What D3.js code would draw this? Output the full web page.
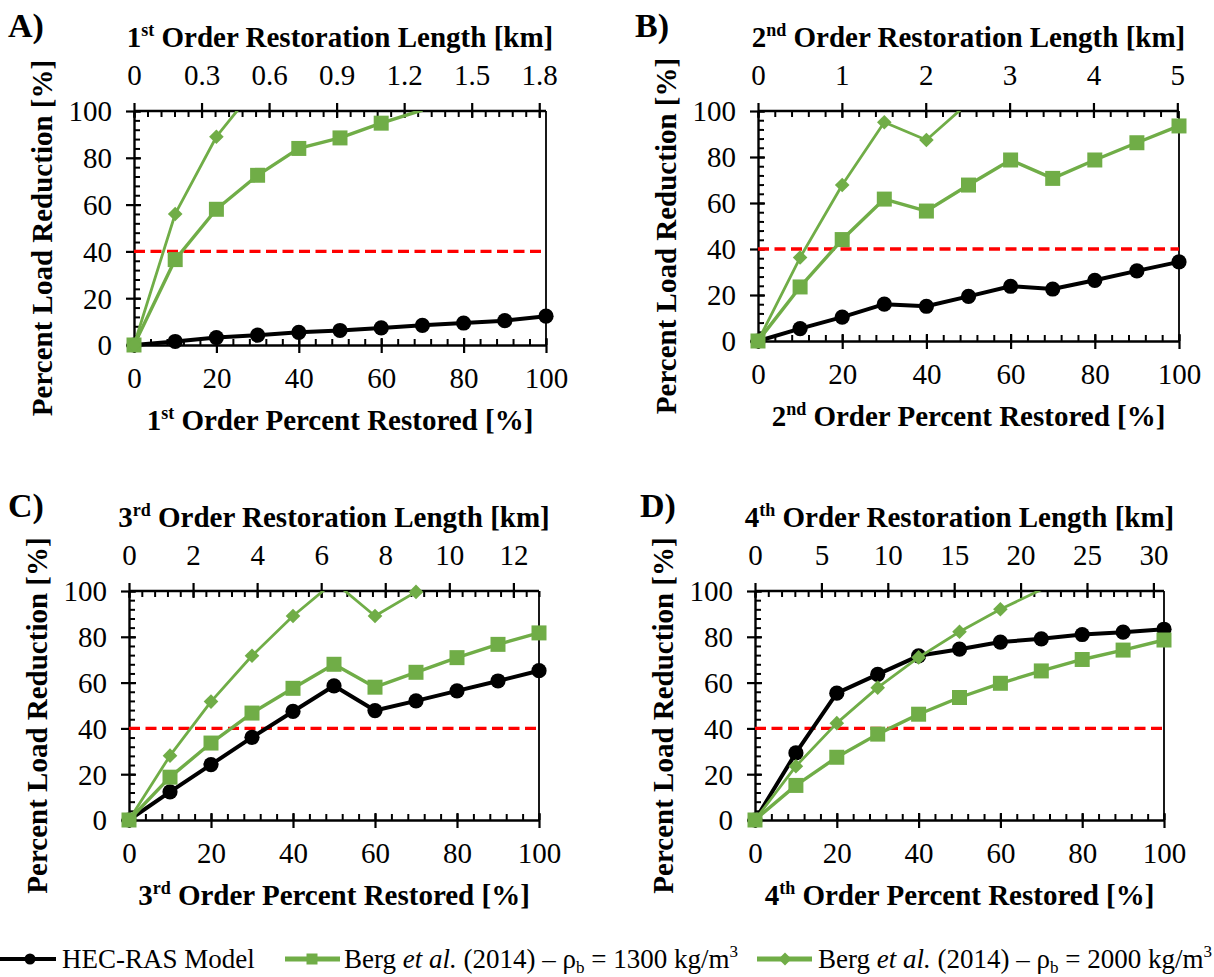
<!DOCTYPE html>
<html>
<head>
<meta charset="utf-8">
<script src="https://cdn.jsdelivr.net/npm/d3@7"></script>
<style>
  body { margin: 0; background: #fff; }
  svg { display: block; }
  text { font-family: "Liberation Serif", "Times New Roman", serif; fill: #000; }
</style>
</head>
<body>
<svg id="fig" width="1214" height="977"></svg>
<script>
// ---- data ---------------------------------------------------------------
const pctRestored = [0, 10, 20, 30, 40, 50, 60, 70, 80, 90, 100];
const pctTicks = [0, 20, 40, 60, 80, 100];
const loadTicks = [0, 20, 40, 60, 80, 100];
const targetReduction = 40;

// 1st order streams
const hecRas1st = [0, 1.5, 3.2, 4.2, 5.4, 6.2, 7.3, 8.4, 9.4, 10.4, 12.3];
const berg1300_1st = [0, 36.5, 58, 72.5, 84, 88.5, 94.8, 100.4];
const berg2000_1st = [0, 56, 89, 111];
const kmTicks1st = [0, 0.3, 0.6, 0.9, 1.2, 1.5, 1.8];
const kmTotal1st = 1.83;

// 2nd order streams
const hecRas2nd = [0, 5.4, 10.4, 16.0, 15.1, 19.4, 23.8, 22.6, 26.4, 30.5, 34.4];
const berg1300_2nd = [0, 23.5, 44.1, 61.7, 56.5, 67.8, 78.7, 70.7, 78.7, 86.2, 93.5];
const berg2000_2nd = [0, 36.3, 67.8, 95.1, 87.4, 103.6];
const kmTicks2nd = [0, 1, 2, 3, 4, 5];
const kmTotal2nd = 5.02;

// 3rd order streams
const hecRas3rd = [0, 12.3, 24.2, 36.1, 47.4, 58.6, 47.8, 52.0, 56.4, 60.7, 65.2];
const berg1300_3rd = [0, 18.7, 33.6, 46.7, 57.5, 68.0, 58.0, 64.5, 70.9, 76.7, 81.7];
const berg2000_3rd = [0, 28.1, 51.7, 71.7, 89.1, 104, 89.1, 99.6];
const kmTicks3rd = [0, 2, 4, 6, 8, 10, 12];
const kmTotal3rd = 12.8;

// 4th order streams
const hecRas4th = [0, 29.3, 55.4, 63.6, 71.7, 74.6, 77.7, 79.1, 81.0, 82.0, 83.3];
const berg1300_4th = [0, 15.1, 27.4, 37.5, 46.2, 53.5, 59.7, 65.1, 70.1, 74.2, 78.6];
const berg2000_4th = [0, 23.5, 42.3, 57.8, 71.0, 82.2, 92.0, 100.6];
const kmTicks4th = [0, 5, 10, 15, 20, 25, 30];
const kmTotal4th = 30.8;

const ordinals = [["1", "st"], ["2", "nd"], ["3", "rd"], ["4", "th"]];
const panelLetters = ["A)", "B)", "C)", "D)"];
const seriesNames = ["HEC-RAS Model", "Berg et al. (2014) – ρb = 1300 kg/m3", "Berg et al. (2014) – ρb = 2000 kg/m3"];

// ---- styling --------------------------------------------------------------
const GREEN = "#70AD47";
const FONT = '"Liberation Serif", "Times New Roman", serif';

const svg = d3.select("#fig");

const panels = [
  { letter: panelLetters[0], ord: ordinals[0], hec: hecRas1st, b13: berg1300_1st, b20: berg2000_1st,
    kmTicks: kmTicks1st, kmTotal: kmTotal1st, minorKm: 0.06,
    left: 134, right: 546, top: 111, bottom: 345, lx: 8, ly: 37 },
  { letter: panelLetters[1], ord: ordinals[1], hec: hecRas2nd, b13: berg1300_2nd, b20: berg2000_2nd,
    kmTicks: kmTicks2nd, kmTotal: kmTotal2nd, minorKm: 0.2,
    left: 758, right: 1179, top: 111, bottom: 341, lx: 635, ly: 37 },
  { letter: panelLetters[2], ord: ordinals[2], hec: hecRas3rd, b13: berg1300_3rd, b20: berg2000_3rd,
    kmTicks: kmTicks3rd, kmTotal: kmTotal3rd, minorKm: 0.4,
    left: 129, right: 539, top: 591, bottom: 820, lx: 8, ly: 517 },
  { letter: panelLetters[3], ord: ordinals[3], hec: hecRas4th, b13: berg1300_4th, b20: berg2000_4th,
    kmTicks: kmTicks4th, kmTotal: kmTotal4th, minorKm: 1,
    left: 755, right: 1164, top: 591, bottom: 820, lx: 640, ly: 517 }
];

// text with a superscripted ordinal suffix, e.g. 1st Order ...
function ordinalText(sel, ord, rest, size) {
  const sup = Math.round(size * 0.62);
  const shift = Math.round(size * 0.38);
  sel.append("tspan").text(ord[0]);
  sel.append("tspan").attr("font-size", sup).attr("dy", -shift).text(ord[1]);
  sel.append("tspan").attr("dy", shift).text(" " + rest);
}

function styleAxisText(g, size) {
  g.attr("font-family", null).attr("font-size", size);
  g.selectAll("text").style("font-family", FONT).style("font-size", size + "px");
  g.select(".domain").attr("stroke-width", 2.4);
  g.selectAll(".tick line").attr("stroke-width", 2.2);
}

function squarePath(cx, cy, s) {
  return `M${cx - s / 2},${cy - s / 2}h${s}v${s}h${-s}Z`;
}
function diamondPath(cx, cy, r) {
  return `M${cx},${cy - r}L${cx + r},${cy}L${cx},${cy + r}L${cx - r},${cy}Z`;
}

function drawPanel(p, idx) {
  const w = p.right - p.left, h = p.bottom - p.top;
  const g = svg.append("g").attr("transform", `translate(${p.left},${p.top})`);
  const x = d3.scaleLinear().domain([0, 100]).range([0, w]);
  const y = d3.scaleLinear().domain([0, 100]).range([h, 0]);
  const xKm = d3.scaleLinear().domain([0, p.kmTotal]).range([0, w]);

  const clipId = "clip" + idx;
  g.append("clipPath").attr("id", clipId)
    .append("rect").attr("x", -30).attr("y", 0).attr("width", w + 60).attr("height", h + 30);

  // minor ticks (inside the plot)
  const minorPct = d3.range(0, 26).map(i => i * 4);
  const nKm = Math.floor(p.kmTotal / p.minorKm + 1e-6);
  const minorKm = d3.range(0, nKm + 1).map(i => i * p.minorKm);

  g.append("g").attr("transform", `translate(0,${h})`)
    .call(d3.axisBottom(x).tickValues(minorPct).tickSize(-6).tickFormat(""))
    .call(a => a.select(".domain").remove())
    .selectAll("line").attr("stroke-width", 2);
  g.append("g")
    .call(d3.axisLeft(y).tickValues(minorPct).tickSize(-6).tickFormat(""))
    .call(a => a.select(".domain").remove())
    .selectAll("line").attr("stroke-width", 2);
  g.append("g")
    .call(d3.axisTop(xKm).tickValues(minorKm).tickSize(-6).tickFormat(""))
    .call(a => a.select(".domain").remove())
    .selectAll("line").attr("stroke-width", 2);

  // right frame edge
  g.append("line").attr("x1", w).attr("x2", w).attr("y1", 0).attr("y2", h)
    .attr("stroke", "#000").attr("stroke-width", 1.8);

  // major axes with ticks crossing the axis line
  const bottomAx = g.append("g").attr("transform", `translate(0,${h})`)
    .call(d3.axisBottom(x).tickValues(pctTicks).tickSize(8).tickSizeOuter(0));
  styleAxisText(bottomAx, 29);
  bottomAx.selectAll(".tick line").attr("y1", -7);
  bottomAx.selectAll(".tick text").attr("y", 43).attr("dy", null);

  const leftAx = g.append("g")
    .call(d3.axisLeft(y).tickValues(loadTicks).tickSize(8).tickSizeOuter(0));
  styleAxisText(leftAx, 29);
  leftAx.selectAll(".tick line").attr("x1", 7);
  leftAx.selectAll(".tick text").attr("x", -22).attr("dy", "0.34em");

  const topAx = g.append("g")
    .call(d3.axisTop(xKm).tickValues(p.kmTicks).tickSize(8).tickSizeOuter(0).tickFormat(d => String(d)));
  styleAxisText(topAx, 29);
  topAx.selectAll(".tick line").attr("y1", 7);
  topAx.selectAll(".tick text").attr("y", -26).attr("dy", null);
  // keep the top axis line across the full plot width
  topAx.select(".domain").attr("d", `M0,0H${w}`);

  // 40 % target line
  g.append("line")
    .attr("x1", x(0)).attr("x2", x(100))
    .attr("y1", y(targetReduction)).attr("y2", y(targetReduction))
    .attr("stroke", "#FF0000").attr("stroke-width", 3.3).attr("stroke-dasharray", "11,5.5");

  const line = d3.line().x((d, i) => x(pctRestored[i])).y(d => y(d));
  const plot = g.append("g");

  // HEC-RAS model
  plot.append("path").datum(p.hec).attr("d", line).attr("clip-path", `url(#${clipId})`)
    .attr("fill", "none").attr("stroke", "#000").attr("stroke-width", 4).attr("stroke-linejoin", "round");
  plot.selectAll(".hec").data(p.hec).join("circle")
    .attr("cx", (d, i) => x(pctRestored[i])).attr("cy", d => y(d)).attr("r", 7.6).attr("fill", "#000");

  // Berg et al. 1300 kg/m3
  plot.append("path").datum(p.b13).attr("d", line).attr("clip-path", `url(#${clipId})`)
    .attr("fill", "none").attr("stroke", GREEN).attr("stroke-width", 3.4).attr("stroke-linejoin", "round");
  plot.selectAll(".b13").data(p.b13.map((v, i) => [pctRestored[i], v]).filter(d => d[1] <= 100)).join("path")
    .attr("d", d => squarePath(x(d[0]), y(d[1]), 15)).attr("fill", GREEN);

  // Berg et al. 2000 kg/m3
  plot.append("path").datum(p.b20).attr("d", line).attr("clip-path", `url(#${clipId})`)
    .attr("fill", "none").attr("stroke", GREEN).attr("stroke-width", 2.8).attr("stroke-linejoin", "round");
  plot.selectAll(".b20").data(p.b20.map((v, i) => [pctRestored[i], v]).filter(d => d[1] <= 100)).join("path")
    .attr("d", d => diamondPath(x(d[0]), y(d[1]), 7.3)).attr("fill", GREEN);

  // axis titles
  const topTitle = g.append("text").attr("x", w / 2).attr("y", -64)
    .attr("text-anchor", "middle").attr("font-weight", "bold").attr("font-size", 29);
  ordinalText(topTitle, p.ord, "Order Restoration Length [km]", 29);

  const bottomTitle = g.append("text").attr("x", w / 2).attr("y", h + 85)
    .attr("text-anchor", "middle").attr("font-weight", "bold").attr("font-size", 29);
  ordinalText(bottomTitle, p.ord, "Order Percent Restored [%]", 29);

  g.append("text").attr("transform", `translate(-82,${h / 2 + 10}) rotate(-90)`)
    .attr("text-anchor", "middle").attr("font-weight", "bold").attr("font-size", 29)
    .text("Percent Load Reduction [%]");

  // panel letter
  svg.append("text").attr("x", p.lx).attr("y", p.ly)
    .attr("font-weight", "bold").attr("font-size", 34).text(p.letter);
}

panels.forEach(drawPanel);

// ---- legend ---------------------------------------------------------------
const legendY = 959;
const legend = svg.append("g");
const legendItems = [
  { x0: 0, x1: 56, mx: 30, tx: 62, color: "#000", sw: 4, marker: "circle" },
  { x0: 285, x1: 340, mx: 312, tx: 344, color: GREEN, sw: 5, marker: "square" },
  { x0: 757, x1: 812, mx: 785, tx: 818, color: GREEN, sw: 5, marker: "diamond" }
];
legendItems.forEach((it, i) => {
  legend.append("line").attr("x1", it.x0).attr("x2", it.x1).attr("y1", legendY).attr("y2", legendY)
    .attr("stroke", it.color).attr("stroke-width", it.sw);
  if (it.marker === "circle") {
    legend.append("circle").attr("cx", it.mx).attr("cy", legendY).attr("r", 5.5).attr("fill", it.color);
  } else if (it.marker === "square") {
    legend.append("path").attr("d", squarePath(it.mx, legendY, 11)).attr("fill", it.color);
  } else {
    legend.append("path").attr("d", diamondPath(it.mx, legendY, 6.5)).attr("fill", it.color);
  }
  const t = legend.append("text").attr("x", it.tx).attr("y", legendY + 9).attr("font-size", 27);
  if (i === 0) {
    t.text(seriesNames[0]);
  } else {
    const name = seriesNames[i];
    const density = name.match(/= (\d+) /)[1];
    t.append("tspan").text("Berg ");
    t.append("tspan").attr("font-style", "italic").text("et al.");
    t.append("tspan").text(" (2014) – ρ");
    t.append("tspan").attr("font-size", 17).attr("dy", 5).text("b");
    t.append("tspan").attr("dy", -5).text(" = " + density + " kg/m");
    t.append("tspan").attr("font-size", 17).attr("dy", -11).text("3");
  }
});
</script>
</body>
</html>
